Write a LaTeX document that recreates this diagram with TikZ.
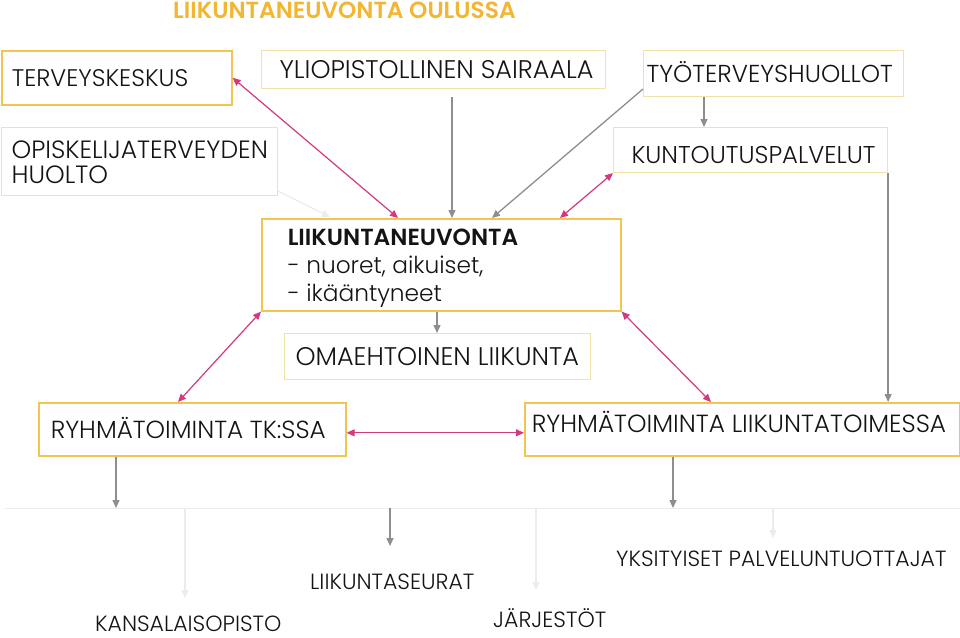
\documentclass[tikz,border=0pt]{standalone}
\usepackage{fontspec}
\setmainfont{Poppins Light}[BoldFont={Poppins SemiBold}]
\usetikzlibrary{arrows.meta,calc}
\definecolor{titleor}{HTML}{F2B632}
\definecolor{boxor}{HTML}{F2C452}
\definecolor{boxlt}{HTML}{F1E3A8}
\definecolor{mag}{HTML}{D6387F}
\definecolor{arrgray}{HTML}{8E8E8E}
\definecolor{faint}{HTML}{ECECEC}
\definecolor{txt}{HTML}{141414}
\newcommand\boxtxt[2]{\makebox[#1][l]{#2}}
\newcommand\fsz[1]{\fontsize{#1}{#1}\selectfont}
\begin{document}
\begin{tikzpicture}[x=1pt,y=-1pt,
  base/.style={rectangle, inner sep=0pt, anchor=north west, align=left, text=txt},
  oneline/.style={text height=17.5pt, text depth=0pt},
  strongbox/.style={base, draw=boxor, line width=1.6pt},
  lightbox/.style={base, draw=boxlt, line width=1.1pt},
  tip/.tip={Triangle[length=8pt,width=7pt]},
  magarrow/.style={draw=mag, line width=1.2pt, tip-tip},
  grayarrow/.style={draw=arrgray, line width=1.3pt, -tip},
  faintarrow/.style={draw=faint, line width=1.2pt, -tip},
  plaintext/.style={inner sep=0pt, anchor=base west, text=txt, text depth=0pt, font=\fsz{22}}
]
\useasboundingbox[fill=white] (0,0) rectangle (960,637);

\node[inner sep=0pt, anchor=base west, text=titleor, font=\fsz{23.3}\bfseries]
  (title) at (173,18) {LIIKUNTANEUVONTA OULUSSA};

\node[strongbox, oneline, font=\fsz{24}, minimum width=230pt, minimum height=54pt] (terv) at (1,50)
  {\boxtxt{210pt}{TERVEYSKESKUS}};
\node[lightbox, oneline, font=\fsz{25.5}, minimum width=344pt, minimum height=38pt] (ylio) at (261,50)
  {\boxtxt{308pt}{YLIOPISTOLLINEN SAIRAALA}};
\node[lightbox, oneline, font=\fsz{24.5}, minimum width=260pt, minimum height=46pt] (tyo) at (643,50)
  {\boxtxt{254pt}{TYÖTERVEYSHUOLLOT}};
\node[lightbox, text height=47pt, text depth=3pt, minimum width=276pt, minimum height=68pt, font=\fontsize{25}{25}\selectfont] (opis) at (1,127)
  {\boxtxt{256pt}{OPISKELIJATERVEYDEN}\\\boxtxt{256pt}{HUOLTO}};
\node[lightbox, text height=27.5pt, text depth=0pt, font=\fsz{24.3}, minimum width=274pt, minimum height=45pt] (kunt) at (613,127)
  {\boxtxt{238pt}{KUNTOUTUSPALVELUT}};
\node[strongbox, text height=79pt, text depth=5pt, minimum width=359pt, minimum height=92pt, font=\fontsize{23.3}{28}\selectfont] (liik) at (261,218)
  {\boxtxt{307pt}{\bfseries LIIKUNTANEUVONTA}\\\boxtxt{307pt}{- nuoret, aikuiset,}\\\boxtxt{307pt}{- ikääntyneet}};
\node[lightbox, oneline, font=\fsz{25.5}, minimum width=306pt, minimum height=46pt] (omah) at (284,333)
  {\boxtxt{284pt}{OMAEHTOINEN LIIKUNTA}};
\node[strongbox, oneline, font=\fsz{24.7}, minimum width=307pt, minimum height=53pt] (ryhtk) at (38,402)
  {\boxtxt{283pt}{RYHMÄTOIMINTA TK:SSA}};
\node[strongbox, text height=17.5pt, text depth=12pt, font=\fsz{24.8}, minimum width=435pt, minimum height=53pt] (ryhlt) at (524,402)
  {\boxtxt{421pt}{RYHMÄTOIMINTA LIIKUNTATOIMESSA}};

\node[plaintext] (kans) at (95,631) {KANSALAISOPISTO};
\node[plaintext] (seur) at (310,589) {LIIKUNTASEURAT};
\node[plaintext] (jarj) at (493,627) {JÄRJESTÖT};
\node[plaintext] (yksi) at (616,566) {YKSITYISET PALVELUNTUOTTAJAT};

\coordinate (hl) at (5,508);
\coordinate (hr) at (960,508);
\coordinate (tkout) at ($(ryhtk.south west)+(78,0)$);
\coordinate (ltout) at ($(ryhlt.south west)+(149,0)$);

% connectors
\draw[faintarrow] ($(opis.south east)+(0,-5)$) -- ($(liik.north west)+(69,-1)$);
\draw[magarrow] (terv.east) -- ($(liik.north west)+(137,0)$);
\draw[grayarrow] ($(ylio.south west)+(191,8)$) -- ($(liik.north west)+(191,0)$);
\draw[grayarrow] ($(tyo.north west)+(0,39)$) -- ($(liik.north west)+(231,0)$);
\draw[magarrow] (kunt.south west) -- ($(liik.north west)+(299,0)$);
\draw[grayarrow] ($(tyo.south west)+(61,0)$) -- ($(kunt.north west)+(91,0)$);
\draw[grayarrow] (kunt.south east) -- (kunt.south east |- ryhlt.north);
\draw[grayarrow] ($(liik.south west)+(176,0)$) -- ($(omah.north west)+(153,0)$);
\draw[magarrow] (liik.south west) -- ($(ryhtk.north west)+(140,0)$);
\draw[magarrow] (liik.south east) -- ($(ryhlt.north west)+(187,0)$);
\draw[magarrow] ([yshift=-3.5pt]ryhtk.east) -- ([yshift=-3.5pt]ryhlt.west);

\draw[draw=faint, line width=1pt] (hl) -- (hr);
\draw[grayarrow] (tkout) -- (tkout |- hl);
\draw[grayarrow] (ltout) -- (ltout |- hl);
\draw[grayarrow] ($(hl)+(385,0)$) -- ++(0,38);
\draw[faintarrow] ($(hl)+(180,0)$) -- ++(0,90);
\draw[faintarrow] ($(hl)+(531,0)$) -- ++(0,82);
\draw[faintarrow] ($(hl)+(768,0)$) -- ++(0,30);
\end{tikzpicture}
\end{document}
